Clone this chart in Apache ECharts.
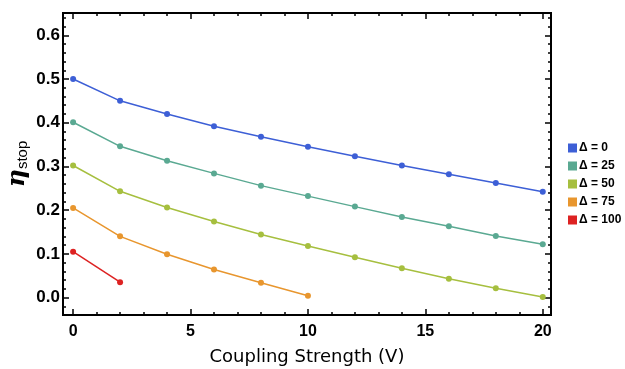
<!DOCTYPE html>
<html>
<head>
<meta charset="utf-8">
<script src="https://cdn.jsdelivr.net/npm/echarts@6/dist/echarts.min.js"></script>
<style>
  html, body { margin: 0; background: #fff; }
  #chart { width: 625px; height: 369px; }
</style>
</head>
<body>
<div id="chart"></div>
<script>
// coupling strength values (x)
const couplingX = [0, 2, 4, 6, 8, 10, 12, 14, 16, 18, 20];

// eta_stop for each detuning
const eta0   = [0.500, 0.450, 0.420, 0.392, 0.368, 0.345, 0.323, 0.302, 0.282, 0.262, 0.242];
const eta25  = [0.401, 0.346, 0.313, 0.284, 0.256, 0.232, 0.208, 0.184, 0.163, 0.141, 0.122];
const eta50  = [0.302, 0.243, 0.206, 0.174, 0.144, 0.118, 0.092, 0.067, 0.043, 0.021, 0.001];
const eta75  = [0.205, 0.140, 0.099, 0.064, 0.034, 0.004];
const eta100 = [0.105, 0.035];

const seriesNames = ["Δ = 0", "Δ = 25", "Δ = 50", "Δ = 75", "Δ = 100"];
const seriesValues = [eta0, eta25, eta50, eta75, eta100];
const seriesColors = ["#3d5fd6", "#5aa992", "#a6bf3f", "#e8962e", "#dd2222"];

// ticks
const xMajorTicks = [0, 5, 10, 15, 20];
const xMinorTicks = [1, 2, 3, 4, 6, 7, 8, 9, 11, 12, 13, 14, 16, 17, 18, 19];
const yMajorTicks = [0, 0.1, 0.2, 0.3, 0.4, 0.5, 0.6];
const yMinorTicks = [-0.02, 0.02, 0.04, 0.06, 0.08, 0.12, 0.14, 0.16, 0.18, 0.22, 0.24, 0.26, 0.28,
  0.32, 0.34, 0.36, 0.38, 0.42, 0.44, 0.46, 0.48, 0.52, 0.54, 0.56, 0.58, 0.62, 0.64];

const X_MIN = -0.43, X_MAX = 20.35;
const Y_MIN = -0.040, Y_MAX = 0.651;
const TICK_FONT = "'Liberation Sans', Arial, sans-serif";

const chart = echarts.init(document.getElementById("chart"), null, { renderer: "canvas" });

// one axis per (side, major/minor) so ticks can mirror Mathematica's frame
function xAxis(position, ticks, len, labels) {
  return {
    type: "value",
    position,
    min: X_MIN,
    max: X_MAX,
    axisLine: { show: false, onZero: false },
    splitLine: { show: false },
    axisTick: {
      show: true,
      inside: true,
      length: len,
      customValues: ticks,
      lineStyle: { color: "#000", width: 1.5 },
    },
    axisLabel: labels
      ? {
          show: true,
          customValues: ticks,
          margin: 9,
          color: "#000",
          fontSize: 16,
          fontWeight: "bold",
          fontFamily: TICK_FONT,
        }
      : { show: false },
  };
}

function yAxis(position, ticks, len, labels) {
  return {
    type: "value",
    position,
    min: Y_MIN,
    max: Y_MAX,
    axisLine: { show: false, onZero: false },
    splitLine: { show: false },
    axisTick: {
      show: true,
      inside: true,
      length: len,
      customValues: ticks,
      lineStyle: { color: "#000", width: 1.5 },
    },
    axisLabel: labels
      ? {
          show: true,
          customValues: ticks,
          margin: 3,
          color: "#000",
          fontSize: 17,
          fontWeight: "bold",
          fontFamily: TICK_FONT,
          formatter: (v) => v.toFixed(1),
        }
      : { show: false },
  };
}

const xAxes = [
  xAxis("bottom", xMajorTicks, 6, true),
  xAxis("bottom", xMinorTicks, 3, false),
  xAxis("top", xMajorTicks, 6, false),
  xAxis("top", xMinorTicks, 3, false),
];
xAxes[0].name = "Coupling Strength (V)";
xAxes[0].nameLocation = "middle";
xAxes[0].nameGap = 33;
xAxes[0].nameTextStyle = { color: "#000", fontSize: 18, fontFamily: "'DejaVu Sans', sans-serif" };

const yAxes = [
  yAxis("left", yMajorTicks, 6, true),
  yAxis("left", yMinorTicks, 3, false),
  yAxis("right", yMajorTicks, 6, false),
  yAxis("right", yMinorTicks, 3, false),
];
yAxes[0].name = "{eta|η}{sub|stop}";
yAxes[0].nameLocation = "middle";
yAxes[0].nameRotate = 90;
yAxes[0].nameGap = 33;
yAxes[0].nameMoveOverlap = false;
yAxes[0].nameTextStyle = {
  color: "#000",
  rich: {
    eta: { fontSize: 25, fontStyle: "italic", fontWeight: "bold", fontFamily: "'DejaVu Serif', serif", color: "#000" },
    sub: { fontSize: 15, fontFamily: TICK_FONT, color: "#000", padding: [10, 0, 0, 0] },
  },
};

const option = {
  animation: false,
  backgroundColor: "#fff",
  grid: {
    left: 63,
    right: 74,
    top: 13,
    bottom: 54,
    containLabel: false,
    outerBoundsMode: "none",
    show: true,
    borderColor: "#000",
    borderWidth: 2,
    backgroundColor: "transparent",
  },
  legend: {
    orient: "vertical",
    left: 563,
    top: 137,
    icon: "rect",
    itemWidth: 9,
    itemHeight: 9,
    itemGap: 6,
    itemStyle: { borderWidth: 0 },
    data: seriesNames,
    textStyle: { color: "#000", fontSize: 12, fontWeight: "bold", fontFamily: TICK_FONT, padding: [0, 0, 0, -3] },
  },
  xAxis: xAxes,
  yAxis: yAxes,
  series: seriesValues.map((vals, i) => ({
    name: seriesNames[i],
    type: "line",
    xAxisIndex: 0,
    yAxisIndex: 0,
    data: vals.map((v, j) => [couplingX[j], v]),
    symbol: "circle",
    symbolSize: 6,
    color: seriesColors[i],
    lineStyle: { color: seriesColors[i], width: 1.5 },
    itemStyle: { color: seriesColors[i] },
  })),
};

chart.setOption(option);
</script>
</body>
</html>
